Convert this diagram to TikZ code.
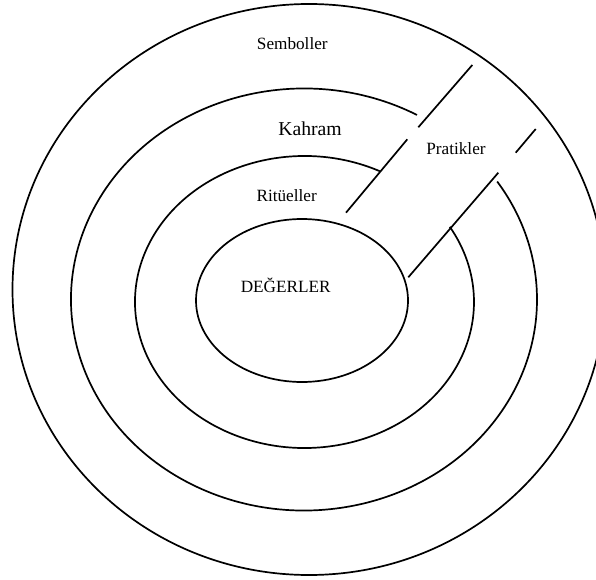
\documentclass[tikz,border=0pt]{standalone}
\usepackage{fontspec}
\setmainfont{Liberation Serif}
\begin{document}
\begin{tikzpicture}[x=1pt,y=1pt,
  ring/.style={draw=black,line width=1.7pt},
  bandline/.style={draw=black,line width=1.7pt},
  lbl/.style={inner sep=0pt,anchor=center,font=\fontsize{17.2}{20}\selectfont},
  biglbl/.style={inner sep=0pt,anchor=center,font=\fontsize{19.7}{23}\selectfont}]
\useasboundingbox (0,0) rectangle (596,579);
% outer ellipse
\draw[ring] (309,289.5) ellipse[x radius=296.5, y radius=285.5];
% second ring (Kahram), open at the band
\draw[ring] (304,279.5) ++(61:233 and 211) arc[start angle=61, end angle=394, x radius=233, y radius=211];
% third ring (Ritueller), open at the band
\draw[ring] (304.5,277) ++(63.5:169.5 and 146) arc[start angle=63.5, end angle=391, x radius=169.5, y radius=146];
% inner ellipse
\draw[ring] (302,278.5) ellipse[x radius=106, y radius=81.5];
% band lines
\coordinate (a1) at (472.3,514);
\coordinate (a2) at (418.3,451.7);
\coordinate (a3) at (407.3,439.7);
\coordinate (a4) at (346,366.3);
\coordinate (b1) at (535.7,450);
\coordinate (b2) at (515.7,426.3);
\coordinate (b3) at (498.3,406.3);
\coordinate (b4) at (408.3,301.7);
\draw[bandline] (a1) -- (a2);
\draw[bandline] (a3) -- (a4);
\draw[bandline] (b1) -- (b2);
\draw[bandline] (b3) -- (b4);
% labels
\node[lbl] (semb) at (292.3,535.7) {Semboller};
\node[biglbl] (kah) at (310,450.7) {Kahram};
\node[lbl] (rit) at (286.7,383.3) {Ritüeller};
\node[lbl] (deg) at (285.7,294) {DEĞERLER};
\node[lbl] (prat) at (456,430) {Pratikler};
\end{tikzpicture}
\end{document}
